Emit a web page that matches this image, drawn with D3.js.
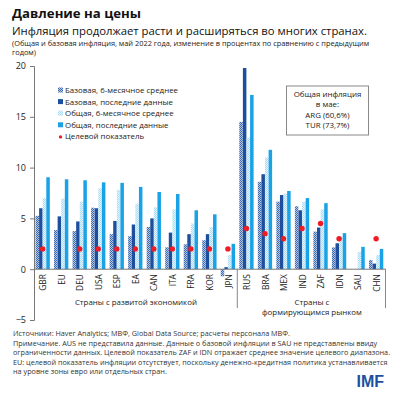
<!DOCTYPE html>
<html><head><meta charset="utf-8">
<script src="https://cdn.jsdelivr.net/npm/d3@7"></script>
<style>html,body{margin:0;padding:0;background:#fff;}svg{display:block;font-family:"Open Sans","Noto Sans",sans-serif;}</style>
</head><body>
<script>
const categories = ["GBR","EU","DEU","USA","ESP","EA","CAN","ITA","FRA","KOR","JPN","RUS","BRA","MEX","IND","ZAF","IDN","SAU","CHN"];
const core6m =        [5.25,3.85,3.75,6.05,3.45,3.25,4.15,2.15,2.45,2.85,-0.7,14.5,8.6,6.65,6.2,3.7,2.15,null,0.9];
const coreLatest =    [6.0,5.2,4.7,6.0,4.75,4.4,5.0,3.6,3.45,3.45,0.2,19.8,9.35,7.3,5.8,4.1,2.55,null,0.55];
const headline6m =    [7.0,6.95,6.65,7.95,7.8,6.45,6.1,5.9,4.5,4.15,1.4,12.95,11.0,7.45,6.65,5.9,3.2,1.7,1.4];
const headlineLatest =[9.05,8.85,8.75,8.55,8.5,8.1,7.6,7.4,5.8,5.4,2.5,17.15,11.75,7.7,7.0,6.5,3.55,2.2,2.0];
const target =        [2,null,2,2,2,2,2,2,2,2,2,4,3.5,3,4,4.5,3,null,3];
const yTicks = [-5,0,5,10,15,20];
const seriesNames = ["Базовая, 6-месячное среднее","Базовая, последние данные","Общая, 6-месячное среднее","Общая, последние данные"];
const targetName = "Целевой показатель";
const groupLabels = [["Страны с развитой экономикой"],["Страны с","формирующимся рынком"]];
const noteLines = ["Общая инфляция","в мае:","ARG (60,6%)","TUR (73,7%)"];
const title = "Давление на цены";
const subtitle = "Инфляция продолжает расти и расширяться во многих странах.";
const subnote = ["(Общая и базовая инфляция, май 2022 года, изменение в процентах по сравнению с предыдущим","годом)"];
const footer = ["Источники: Haver Analytics; МВФ, Global Data Source; расчеты персонала МВФ.",
"Примечание. AUS не представила данные. Данные о базовой инфляции в SAU не представлены ввиду",
"ограниченности данных. Целевой показатель ZAF и IDN отражает среднее значение целевого диапазона.",
"EU: целевой показатель инфляции отсутствует, поскольку денежно-кредитная политика устанавливается",
"на уровне зоны евро или отдельных стран."];

const W=397,H=394;
const svg=d3.select("body").append("svg").attr("width",W).attr("height",H);
const defs=svg.append("defs");
function checker(id,light,dark){
  const p=defs.append("pattern").attr("id",id).attr("width",2).attr("height",2).attr("patternUnits","userSpaceOnUse");
  p.append("rect").attr("width",2).attr("height",2).attr("fill",light);
  p.append("rect").attr("width",1).attr("height",1).attr("fill",dark);
  p.append("rect").attr("x",1).attr("y",1).attr("width",1).attr("height",1).attr("fill",dark);
}
checker("pCore","#b3c6e4","#3d6bb3");
checker("pHead","#e6f5fd","#a6dcf6");
const fills=["url(#pCore)","#1d4f9e","url(#pHead)","#19a2e6"];
const series=[core6m,coreLatest,headline6m,headlineLatest];

const x=d3.scaleBand().domain(categories).range([34,386]).padding(0);
const y=d3.scaleLinear().domain([-5,20]).range([320,66]);
const bw=3.5, step=3.6, off=1.5;

// Titles
svg.append("text").attr("x",12).attr("y",18).attr("font-size",13.2).attr("font-weight","bold").attr("fill","#111").text(title);
svg.append("text").attr("x",12).attr("y",35).attr("font-size",11.3).attr("fill","#111").text(subtitle);
subnote.forEach((t,i)=>svg.append("text").attr("x",12).attr("y",46+i*9).attr("font-size",7.4).attr("fill","#222").text(t));

// bars
series.forEach((s,si)=>{
  svg.append("g").selectAll("rect").data(categories.map((c,i)=>({c,v:s[i]})).filter(d=>d.v!=null))
    .join("rect")
    .attr("x",d=>x(d.c)+off+si*step)
    .attr("width",bw)
    .attr("y",d=>y(Math.max(0,d.v)))
    .attr("height",d=>Math.abs(y(d.v)-y(0)))
    .attr("fill",fills[si]);
});
// target dots
svg.append("g").selectAll("circle").data(categories.map((c,i)=>({c,v:target[i]})).filter(d=>d.v!=null))
  .join("circle").attr("cx",d=>x(d.c)+off+2*step-0.05).attr("cy",d=>y(d.v)).attr("r",2.7).attr("fill","#ee1c25");

// y axis
const yAxis=svg.append("g").attr("transform","translate(34,0)")
  .call(d3.axisLeft(y).tickValues(yTicks).tickSize(4).tickPadding(4));
yAxis.select(".domain").attr("stroke","#777");
yAxis.selectAll(".tick line").attr("stroke","#777");
yAxis.selectAll("text").attr("font-size",9).attr("fill","#222").attr("font-family","Open Sans, Noto Sans, sans-serif");

// zero line
svg.append("line").attr("x1",34).attr("x2",386).attr("y1",y(0)).attr("y2",y(0)).attr("stroke","#777");

// x labels
svg.append("g").selectAll("text").data(categories).join("text")
  .attr("transform",d=>`translate(${x(d)+x.bandwidth()/2+3},${y(0)+5}) rotate(-90)`)
  .attr("text-anchor","end").attr("font-size",8.3).attr("fill","#222").text(d=>d);

// separators
[x("RUS"),386].forEach(px=>svg.append("line").attr("x1",px-0.5).attr("x2",px-0.5).attr("y1",y(0)).attr("y2",308).attr("stroke","#888"));

// group labels
const g1=(x("GBR")+x("RUS"))/2, g2=(x("RUS")+386)/2;
groupLabels[0].forEach((t,i)=>svg.append("text").attr("x",g1).attr("y",305+i*10).attr("text-anchor","middle").attr("font-size",7.9).attr("fill","#222").text(t));
groupLabels[1].forEach((t,i)=>svg.append("text").attr("x",g2).attr("y",305+i*10).attr("text-anchor","middle").attr("font-size",7.9).attr("fill","#222").text(t));

// legend
const lg=svg.append("g");
seriesNames.forEach((n,i)=>{
  const yy=90+i*11.6;
  lg.append("rect").attr("x",58).attr("y",yy-2.5).attr("width",5).attr("height",5).attr("fill",fills[i]);
  lg.append("text").attr("x",65).attr("y",yy+3).attr("font-size",7.9).attr("fill","#222").text(n);
});
lg.append("circle").attr("cx",60.5).attr("cy",90+4*11.6+0.5).attr("r",1.7).attr("fill","#ee1c25");
lg.append("text").attr("x",65).attr("y",90+4*11.6+3).attr("font-size",7.9).attr("fill","#222").text(targetName);

// note box
svg.append("rect").attr("x",286.5).attr("y",86).attr("width",82).attr("height",49).attr("fill","#fff").attr("stroke","#888");
noteLines.forEach((t,i)=>svg.append("text").attr("x",327.5).attr("y",97+i*10.3).attr("text-anchor","middle").attr("font-size",7.9).attr("fill","#222").text(t));

// footer
footer.forEach((t,i)=>svg.append("text").attr("x",13).attr("y",336+i*9.5).attr("font-size",7.25).attr("fill","#333").text(t));
svg.append("text").attr("x",384).attr("y",387).attr("text-anchor","end").attr("font-size",16).attr("font-weight","bold").attr("fill","#1d4f9e").attr("font-family","Arial, Liberation Sans, sans-serif").text("IMF");
</script>
</body></html>
